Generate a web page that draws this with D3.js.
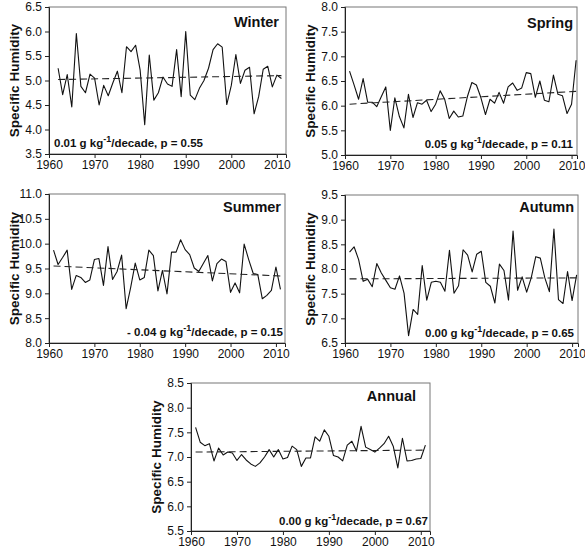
<!DOCTYPE html>
<html><head><meta charset="utf-8">
<script src="https://cdn.jsdelivr.net/npm/d3@7"></script>
<style>
body{margin:0;background:#fff}
svg{display:block}
text{font-family:"Liberation Sans",Arial,Helvetica,sans-serif;fill:#111}
</style>
</head><body>
<script>
// ---------- data ----------
const years = [1961,1962,1963,1964,1965,1966,1967,1968,1969,1970,1971,1972,1973,1974,1975,1976,1977,1978,1979,1980,
  1981,1982,1983,1984,1985,1986,1987,1988,1989,1990,1991,1992,1993,1994,1995,1996,1997,1998,1999,2000,
  2001,2002,2003,2004,2005,2006,2007,2008,2009,2010,2011];
const winterYears = years.slice(1);
const winter = [5.25,4.71,5.12,4.46,5.96,4.88,4.75,5.13,5.05,4.50,4.90,4.69,4.95,5.19,4.75,5.69,5.59,5.72,5.21,4.10,
  5.52,4.60,4.75,5.07,4.93,4.88,5.63,4.67,6.00,4.70,4.61,4.84,5.00,5.25,5.63,5.75,5.68,4.51,4.90,5.53,
  4.94,5.21,5.27,4.32,4.67,5.23,5.29,4.87,5.11,5.04];
const spring = [6.70,6.42,6.13,6.55,6.07,6.07,5.98,6.18,6.38,5.50,6.16,5.78,5.55,6.23,5.76,6.06,6.03,6.11,5.88,6.03,
  6.30,6.13,5.74,5.89,5.77,5.79,6.18,6.47,6.42,6.16,5.82,6.13,6.05,6.27,6.05,6.38,6.46,6.31,6.36,6.67,
  6.65,6.17,6.50,6.11,6.08,6.62,6.23,6.20,5.84,6.03,6.92];
const summer = [9.87,9.58,9.72,9.87,9.08,9.36,9.32,9.22,9.27,9.68,9.70,9.16,9.94,9.28,9.44,9.77,8.69,9.12,9.61,9.27,
  9.32,9.87,9.76,9.05,9.46,8.99,9.83,9.83,10.08,9.88,9.78,9.51,9.44,9.60,9.76,9.25,9.60,9.69,9.64,9.02,
  9.21,9.01,9.99,9.68,9.40,9.38,8.89,8.96,9.06,9.53,9.08];
const autumn = [8.34,8.45,8.19,7.75,7.79,7.64,8.11,7.92,7.77,7.62,7.59,7.86,7.51,6.65,7.18,7.08,8.07,7.37,7.73,7.75,
  7.73,7.55,8.38,7.51,7.66,8.39,8.28,7.94,8.30,8.36,7.73,7.65,7.31,8.10,7.97,7.37,8.77,7.57,7.84,7.53,
  7.82,8.25,8.22,7.82,7.54,8.81,7.38,7.30,7.95,7.36,7.88];
const annual = [7.60,7.30,7.23,7.27,6.92,7.18,7.04,7.10,7.08,6.93,7.05,6.94,6.86,6.81,6.88,7.00,7.15,7.00,7.15,6.96,
  6.99,7.22,7.15,6.81,6.98,6.98,7.41,7.32,7.55,7.42,7.03,7.00,6.92,7.24,7.32,7.12,7.62,7.20,7.15,7.10,
  7.18,7.27,7.42,7.22,6.78,7.38,6.92,6.93,6.96,6.97,7.24];
// trend line end values (first year, last year)
const winterTrend = [5.02, 5.10];
const springTrend = [6.03, 6.29];
const summerTrend = [9.55, 9.35];
const autumnTrend = [7.80, 7.82];
const annualTrend = [7.10, 7.14];
const titles = ["Winter","Spring","Summer","Autumn","Annual"];
const rates = ["0.01","0.05","- 0.04","0.00","0.00"];
const pValues = ["0.55","0.11","0.15","0.65","0.67"];
const yDomains = [[3.5,6.5],[5.0,8.0],[8.0,11.0],[6.5,9.5],[5.5,8.5]];
const xTicks = [1960,1970,1980,1990,2000,2010];

// ---------- layout ----------
const W = 585, H = 548;
const svg = d3.select("body").append("svg").attr("width", W).attr("height", H);

const panels = [
  {years: winterYears, vals: winter, trend: winterTrend, x0:49, x1:286, y0:7,   y1:154, xMax:2012,   tx:279, ty:27,  sx:54,  sy:147, sAnchor:"start"},
  {years: years,       vals: spring, trend: springTrend, x0:345,x1:577, y0:7,   y1:155, xMax:2011.2, tx:573, ty:28,  sx:573, sy:148, sAnchor:"end"},
  {years: years,       vals: summer, trend: summerTrend, x0:49, x1:285, y0:194, y1:343, xMax:2012,   tx:281, ty:212, sx:283, sy:336, sAnchor:"end"},
  {years: years,       vals: autumn, trend: autumnTrend, x0:345,x1:578, y0:195, y1:343, xMax:2011.3, tx:574, ty:212, sx:574, sy:337, sAnchor:"end"},
  {years: years,       vals: annual, trend: annualTrend, x0:191,x1:430, y0:383, y1:531, xMax:2012,   tx:416, ty:401, sx:428, sy:525, sAnchor:"end"}
];

panels.forEach((p, i) => {
  const x = d3.scaleLinear().domain([1960, p.xMax]).range([p.x0, p.x1]);
  const y = d3.scaleLinear().domain(yDomains[i]).range([p.y1, p.y0]);
  const g = svg.append("g");

  // frame (top/right lighter)
  g.append("rect").attr("x", p.x0).attr("y", p.y0)
    .attr("width", p.x1 - p.x0).attr("height", p.y1 - p.y0)
    .attr("fill", "none").attr("stroke", "#777").attr("stroke-width", 1);

  const yTicks = d3.range(0, 7).map(k => yDomains[i][0] + k * 0.5);
  const yAxis = d3.axisLeft(y).tickValues(yTicks).tickFormat(d3.format(".1f")).tickSize(4).tickPadding(3);
  const xAxis = d3.axisBottom(x).tickValues(xTicks).tickFormat(d3.format("d")).tickSize(4).tickPadding(2);

  const ya = g.append("g").attr("transform", `translate(${p.x0},0)`).call(yAxis);
  const xa = g.append("g").attr("transform", `translate(0,${p.y1})`).call(xAxis);
  [ya, xa].forEach(a => {
    a.select(".domain").attr("stroke", "#222");
    a.selectAll(".tick line").attr("stroke", "#222");
    a.selectAll("text").attr("font-size", 12).attr("fill", "#222")
      .style("font-family", '"Liberation Sans",Arial,sans-serif');
  });

  // y label
  g.append("text")
    .attr("transform", `translate(${p.x0 - 35},${(p.y0 + p.y1) / 2}) rotate(-90)`)
    .attr("text-anchor", "middle").attr("dy", "0.35em")
    .attr("font-size", 13.5).attr("font-weight", "bold")
    .text("Specific Humidity");

  // data line
  const line = d3.line().x((d, k) => x(p.years[k])).y(d => y(d));
  g.append("path").datum(p.vals).attr("d", line)
    .attr("fill", "none").attr("stroke", "#111").attr("stroke-width", 1.1)
    .attr("stroke-linejoin", "round");

  // trend line
  const tYears = [p.years[0], p.years[p.years.length - 1]];
  g.append("path").datum(p.trend)
    .attr("d", d3.line().x((d, k) => x(tYears[k])).y(d => y(d)))
    .attr("fill", "none").attr("stroke", "#222").attr("stroke-width", 1.1)
    .attr("stroke-dasharray", "7,4");

  // title
  g.append("text").attr("x", p.tx).attr("y", p.ty).attr("text-anchor", "end")
    .attr("font-size", 14.5).attr("font-weight", "bold").text(titles[i]);

  // stats text
  const st = g.append("text").attr("x", p.sx).attr("y", p.sy).attr("text-anchor", p.sAnchor)
    .attr("font-size", 11.5).attr("font-weight", "bold");
  st.append("tspan").text(rates[i] + " g kg");
  st.append("tspan").attr("dy", -5).attr("font-size", 9).text("-1");
  st.append("tspan").attr("dy", 5).text("/decade, p = " + pValues[i]);
});
</script>
</body></html>
